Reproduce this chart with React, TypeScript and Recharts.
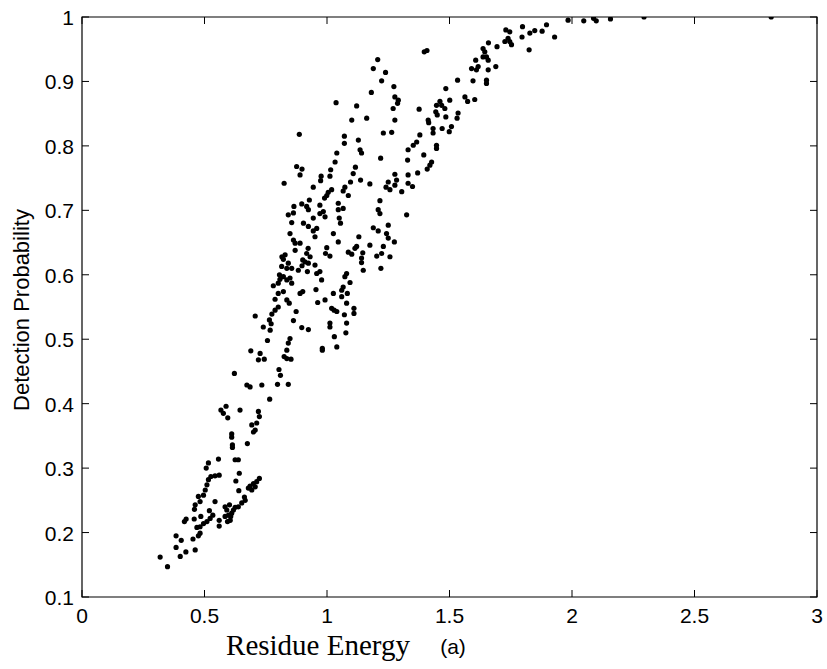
import React from 'react';
import { ScatterChart, Scatter, XAxis, YAxis, ReferenceArea, Label } from 'recharts';

// ---- tick values / labels ----
const xTicks = [0, 0.5, 1, 1.5, 2, 2.5, 3];
const xTickLabels = ['0', '0.5', '1', '1.5', '2', '2.5', '3'];
const yTicks = [0.1, 0.2, 0.3, 0.4, 0.5, 0.6, 0.7, 0.8, 0.9, 1];
const yTickLabels = ['0.1', '0.2', '0.3', '0.4', '0.5', '0.6', '0.7', '0.8', '0.9', '1'];

const xLabel = 'Residue Energy';
const yLabel = 'Detection Probability';
const caption = '(a)';

// ---- data: [residue energy, detection probability] ----
const lowBand: [number, number][] = [
  [0.319,0.162],[0.349,0.147],[0.384,0.195],[0.405,0.188],[0.384,0.177],[0.401,0.163],[0.424,0.170],[0.462,0.173],
  [0.453,0.190],[0.418,0.217],[0.425,0.221],[0.458,0.221],[0.485,0.225],[0.469,0.208],[0.482,0.209],[0.496,0.214],
  [0.510,0.217],[0.523,0.222],[0.534,0.227],[0.482,0.199],[0.475,0.195],[0.520,0.234],[0.560,0.219],[0.560,0.210],
  [0.543,0.248],[0.459,0.236],[0.462,0.243],[0.482,0.248],[0.475,0.256],[0.496,0.258],[0.503,0.266],[0.510,0.274],
  [0.516,0.282],[0.526,0.287],[0.543,0.288],[0.560,0.289],[0.507,0.300],[0.516,0.308],[0.557,0.314],[0.625,0.313],
  [0.638,0.313],[0.642,0.292],[0.628,0.280],[0.640,0.265],[0.611,0.353],[0.611,0.348],[0.614,0.336],[0.614,0.332],
  [0.675,0.338],[0.693,0.367],[0.707,0.359],[0.713,0.370],[0.700,0.356],
];

const lowRightBand: [number, number][] = [
  [0.584,0.240],[0.591,0.235],[0.598,0.227],[0.605,0.219],[0.594,0.217],[0.611,0.230],[0.618,0.235],[0.625,0.239],
  [0.638,0.240],[0.652,0.246],[0.666,0.250],[0.663,0.255],[0.679,0.269],[0.686,0.272],[0.693,0.266],[0.707,0.271],
  [0.713,0.279],[0.724,0.284],[0.700,0.276],[0.602,0.243],[0.584,0.225],[0.607,0.225],
];

const midLowBand: [number, number][] = [
  [0.622,0.447],[0.673,0.429],[0.686,0.426],[0.734,0.429],[0.798,0.430],[0.842,0.430],[0.804,0.453],[0.810,0.444],
  [0.766,0.407],[0.588,0.396],[0.567,0.390],[0.577,0.385],[0.595,0.378],[0.645,0.390],[0.720,0.388],[0.724,0.380],
];

const midBand: [number, number][] = [
  [0.707,0.536],[0.689,0.482],[0.727,0.478],[0.720,0.468],[0.744,0.469],[0.757,0.498],[0.740,0.519],[0.765,0.530],
  [0.772,0.524],[0.768,0.514],[0.775,0.539],[0.788,0.545],[0.801,0.550],[0.863,0.529],[0.874,0.543],[0.897,0.518],
  [0.924,0.515],[0.849,0.501],[0.842,0.494],[0.836,0.483],[0.825,0.473],[0.836,0.470],[0.853,0.469],
  [0.781,0.583],[0.801,0.587],[0.808,0.593],[0.806,0.600],[0.822,0.597],[0.788,0.562],[0.801,0.571],[0.822,0.574],
  [0.836,0.561],[0.846,0.556],[0.816,0.628],[0.829,0.631],[0.822,0.624],[0.815,0.613],[0.836,0.610],[0.856,0.610],
  [0.849,0.595],[0.856,0.587],[0.836,0.592],[0.842,0.618],[0.870,0.638],[0.883,0.607],[0.890,0.571],[0.901,0.574],
  [0.901,0.623],[0.910,0.620],[0.924,0.618],[0.931,0.628],[0.917,0.633],[0.951,0.615],[0.920,0.605],[0.971,0.605],
  [0.978,0.592],[0.955,0.577],[0.992,0.561],[0.962,0.557],[1.019,0.548],[1.029,0.545],[1.040,0.543],[1.012,0.525],
  [1.012,0.519],[1.030,0.504],[0.981,0.486],[0.981,0.483],[1.040,0.488],[1.012,0.629],[1.026,0.571],[1.060,0.576],
  [1.060,0.566],[1.066,0.581],[1.073,0.597],[1.080,0.602],[1.083,0.571],[1.080,0.556],[1.071,0.538],[1.080,0.525],
  [1.077,0.510],[1.110,0.548],[1.110,0.540],[1.094,0.588],[0.923,0.641],[0.898,0.614],[0.958,0.602],
];

const upperMidBand: [number, number][] = [
  [0.887,0.818],[1.037,0.867],[1.121,0.862],[1.101,0.840],[1.162,0.843],[1.288,0.866],[1.270,0.858],[1.277,0.840],
  [1.230,0.820],[1.264,0.821],[1.071,0.815],[1.071,0.804],[1.128,0.809],[1.135,0.794],[1.141,0.789],[1.040,0.789],
  [1.033,0.775],[1.219,0.781],[0.876,0.768],[0.898,0.764],[0.890,0.755],[1.015,0.763],[1.012,0.753],[1.116,0.767],
  [1.107,0.757],[0.976,0.753],[0.974,0.746],[0.825,0.742],[1.137,0.747],[1.096,0.744],[1.175,0.741],[0.944,0.736],
  [1.073,0.736],[1.066,0.730],[1.087,0.723],[1.019,0.732],[1.005,0.728],[0.999,0.723],[0.990,0.719],
  [0.928,0.716],[0.917,0.706],[0.924,0.701],[0.897,0.710],[0.865,0.706],[0.863,0.696],[0.842,0.693],[0.971,0.708],
  [0.985,0.698],[0.971,0.695],[0.992,0.690],[1.046,0.711],[1.046,0.701],[1.066,0.703],[1.050,0.688],[1.055,0.680],
  [0.944,0.688],[0.856,0.681],[0.904,0.680],[0.849,0.664],[0.863,0.654],[0.870,0.649],[0.924,0.675],[0.944,0.668],
  [0.958,0.672],[0.951,0.659],[1.026,0.664],[1.046,0.651],[0.890,0.649],
];

const rightLowBand: [number, number][] = [
  [1.250,0.744],[1.241,0.736],[1.257,0.732],[1.277,0.739],[1.277,0.756],[1.284,0.747],[1.305,0.729],[1.331,0.742],
  [1.331,0.755],[1.329,0.778],[1.331,0.794],[1.216,0.715],[1.209,0.701],[1.216,0.695],[1.325,0.693],[1.349,0.737],
  [1.130,0.659],[1.121,0.644],[1.175,0.646],[1.189,0.673],[1.209,0.668],[1.243,0.664],[1.250,0.677],[1.250,0.657],
  [1.275,0.651],[1.230,0.644],[1.223,0.633],[1.257,0.628],[1.203,0.629],[1.220,0.610],[1.146,0.634],[1.141,0.626],
  [1.141,0.619],[1.148,0.607],[1.087,0.635],[1.101,0.632],[1.114,0.641],[0.999,0.642],[0.994,0.633],
];

const upperBranch: [number, number][] = [
  [1.397,0.946],[1.408,0.948],[1.207,0.934],[1.189,0.920],[1.239,0.914],[1.223,0.901],[1.273,0.892],[1.181,0.883],
  [1.277,0.876],[1.291,0.871],[1.376,0.857],
  [1.352,0.801],[1.366,0.806],[1.379,0.817],[1.370,0.758],[1.395,0.786],[1.409,0.764],[1.420,0.770],[1.427,0.775],
  [1.413,0.840],[1.415,0.836],[1.433,0.827],[1.433,0.820],[1.447,0.801],[1.447,0.796],[1.470,0.827],[1.499,0.822],
  [1.508,0.830],[1.447,0.863],[1.461,0.869],[1.444,0.853],[1.450,0.848],[1.468,0.863],[1.481,0.858],[1.485,0.845],
  [1.485,0.889],[1.501,0.871],[1.531,0.843],[1.535,0.851],[1.563,0.876],[1.574,0.869],[1.533,0.902],[1.603,0.872],
  [1.596,0.901],[1.590,0.920],[1.617,0.923],[1.610,0.918],[1.607,0.933],[1.637,0.951],[1.644,0.946],[1.637,0.938],
  [1.651,0.938],[1.658,0.933],[1.659,0.960],[1.658,0.918],[1.689,0.923],[1.651,0.902],[1.651,0.897],[1.694,0.954],
  [1.730,0.980],[1.746,0.977],[1.739,0.967],[1.746,0.962],[1.753,0.957],[1.726,0.962],[1.798,0.985],[1.796,0.969],
  [1.828,0.975],[1.848,0.979],[1.825,0.949],
];

const plateau: [number, number][] = [
  [1.878,0.978],[1.896,0.988],[1.929,0.969],[1.984,0.995],[2.048,0.994],[2.088,0.998],[2.099,0.994],[2.157,0.997],
  [2.294,1.000],[2.813,1.000],
];

const groups = [lowBand, lowRightBand, midLowBand, midBand, upperMidBand, rightLowBand, upperBranch, plateau];

// ---- layout ----
const W = 827;
const H = 669;
const MARGIN = { top: 17, right: 10, bottom: 0, left: 0 };
const Y_AXIS_W = 82;
const X_AXIS_H = 72;
const PLOT_TOP = MARGIN.top;
const PLOT_RIGHT = W - MARGIN.right;
const TICK_LEN = 7;
const SANS = '"Liberation Sans", Arial, Helvetica, sans-serif';
const SERIF = '"Liberation Serif", "Times New Roman", serif';

const XTick = (props: any) => {
  const { x, y, payload } = props;
  const i = xTicks.indexOf(payload.value);
  return (
    <g>
      <line x1={x} y1={y} x2={x} y2={y - TICK_LEN} stroke="#000" strokeWidth={1} />
      <line x1={x} y1={PLOT_TOP} x2={x} y2={PLOT_TOP + TICK_LEN} stroke="#000" strokeWidth={1} />
      <text x={x} y={y + 26} textAnchor="middle" fontSize={21} fontFamily={SANS} fill="#000">
        {i >= 0 ? xTickLabels[i] : String(payload.value)}
      </text>
    </g>
  );
};

const YTick = (props: any) => {
  const { x, y, payload } = props;
  const i = yTicks.findIndex((t) => Math.abs(t - payload.value) < 1e-9);
  return (
    <g>
      <line x1={x} y1={y} x2={x + TICK_LEN} y2={y} stroke="#000" strokeWidth={1} />
      <line x1={PLOT_RIGHT} y1={y} x2={PLOT_RIGHT - TICK_LEN} y2={y} stroke="#000" strokeWidth={1} />
      <text x={x - 8} y={y + 8} textAnchor="end" fontSize={21} fontFamily={SANS} fill="#000">
        {i >= 0 ? yTickLabels[i] : String(payload.value)}
      </text>
    </g>
  );
};

const XLabelContent = (props: any) => {
  const vb = props.viewBox || { x: 82, y: 597, width: 735, height: 72 };
  return (
    <g>
      <text x={vb.x + 236} y={vb.y + 58} textAnchor="middle" fontSize={29} fontFamily={SERIF} fill="#000">
        {xLabel}
      </text>
      <text x={vb.x + 371} y={vb.y + 57} textAnchor="middle" fontSize={21} fontFamily={SANS} fill="#000">
        {caption}
      </text>
    </g>
  );
};

const YLabelContent = (props: any) => {
  const vb = props.viewBox || { x: 0, y: 17, width: 82, height: 580 };
  const cx = vb.x + 29;
  const cy = vb.y + vb.height / 2 + 3;
  return (
    <text
      x={cx}
      y={cy}
      transform={`rotate(-90 ${cx} ${cy})`}
      textAnchor="middle"
      fontSize={22}
      fontFamily={SANS}
      fill="#000"
    >
      {yLabel}
    </text>
  );
};

const Dot = (props: any) => <circle cx={props.cx} cy={props.cy} r={2.6} fill="#000" />;

export default function App() {
  return (
    <div style={{ position: 'absolute', left: 0, top: 0, width: W, height: H, background: '#fff' }}>
      <ScatterChart width={W} height={H} margin={MARGIN}>
        <XAxis
          type="number"
          dataKey="x"
          domain={[0, 3]}
          ticks={xTicks}
          interval={0}
          allowDataOverflow
          axisLine={false}
          tickLine={false}
          tickSize={0}
          tickMargin={0}
          height={X_AXIS_H}
          tick={<XTick />}
        >
          <Label content={<XLabelContent />} />
        </XAxis>
        <YAxis
          type="number"
          dataKey="y"
          domain={[0.1, 1]}
          ticks={yTicks}
          interval={0}
          allowDataOverflow
          axisLine={false}
          tickLine={false}
          tickSize={0}
          tickMargin={0}
          width={Y_AXIS_W}
          tick={<YTick />}
        >
          <Label content={<YLabelContent />} />
        </YAxis>
        {groups.map((g, gi) => (
          <Scatter
            key={gi}
            data={g.map(([x, y]) => ({ x, y }))}
            fill="#000"
            shape={<Dot />}
            isAnimationActive={false}
          />
        ))}
        <ReferenceArea x1={0} x2={3} y1={0.1} y2={1} fill="none" fillOpacity={0} stroke="#000" strokeWidth={1.2} ifOverflow="visible" />
      </ScatterChart>
    </div>
  );
}
